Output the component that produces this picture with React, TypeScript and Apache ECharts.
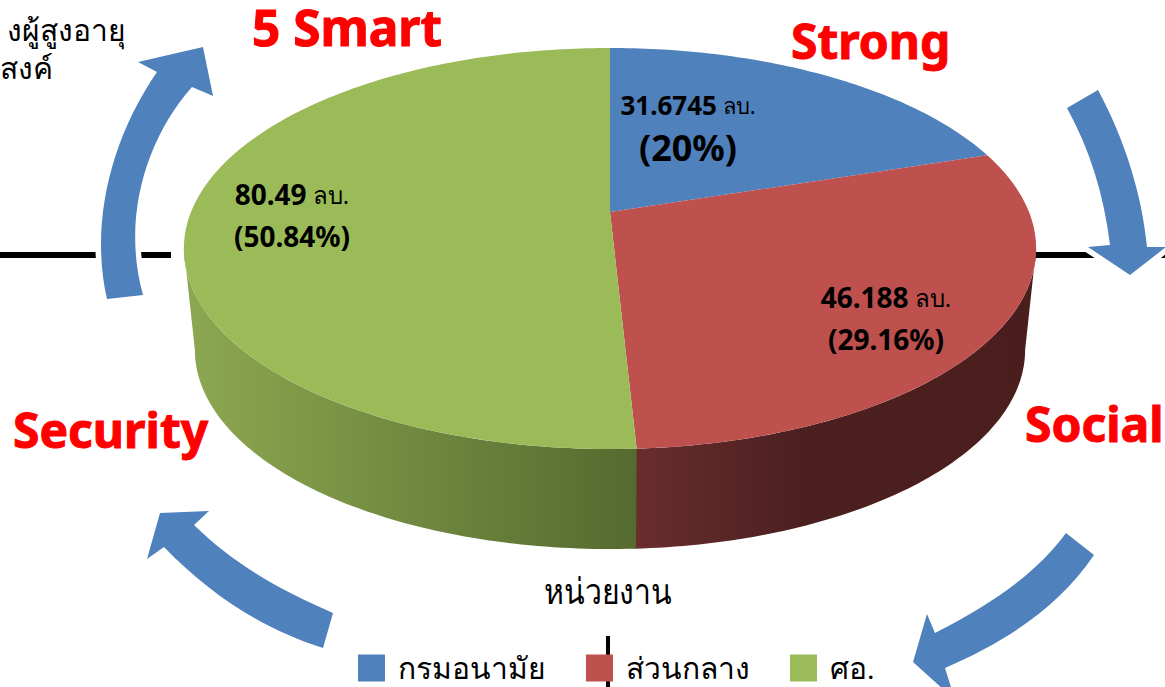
import React, { useEffect, useRef } from "react";
import * as echarts from "echarts";

const departments = ["กรมอนามัย", "ส่วนกลาง", "ศอ."];
const budgets = [31.6745, 46.188, 80.49];
const amountLabels = ["31.6745", "46.188", "80.49"];
const percentLabels = ["(20%)", "(29.16%)", "(50.84%)"];
const unitLabel = "ลบ.";
const sliceColors = ["#4F81BD", "#BE504D", "#9BBB59"];
const labelAnchors = [[688, 126], [886, 318], [292, 215]];
const amountSizes = [26, 28, 28];
const percentSizes = [36, 28, 28];
const sloganTexts = ["5 Smart", "Strong", "Security", "Social"];
const sloganAnchors = [[252, 27], [791, 40], [13, 429], [1025, 423]];
const sloganSizes = [49.5, 48, 48, 48];

const ARROWS: Record<string, string> = {
  arrowUp:
    "M107 299 C90 225 110 140 157 72 L138 62 L203 47 L213 96 L192 87 C145 140 122 220 143 295 Z",
  arrowRight:
    "M1098 90 C1125 140 1142 195 1147 247 L1166 247 L1130 275 L1088 247 L1110 245 C1104 195 1090 150 1067 108 Z",
  arrowDown:
    "M1094 555 C1060 605 1010 640 945 668 L955 700 L913 662 L927 614 L935 633 C990 605 1035 575 1066 533 Z",
  arrowLeft:
    "M333 613 C280 590 235 565 194 525 L209 511 L160 513 L147 559 L164 547 C210 595 265 630 323 648 Z",
};
Object.entries(ARROWS).forEach(([name, d]) => {
  echarts.graphic.registerShape(name, echarts.graphic.extendPath(d, {}));
});

const total = budgets.reduce((a, b) => a + b, 0);
const starts = budgets.map((_, i) => budgets.slice(0, i).reduce((a, b) => a + b, 0) / total);

// Perspective projection of the pie disc
const K = 0.182;
const top3d = (theta: number): [number, number] => {
  const u = Math.sin(theta);
  const v = -Math.cos(theta);
  const w = 1 - K * v;
  return [610 + (419 * u) / w, 212 + (193.9 * v) / w];
};
const bottom3d = (theta: number): [number, number] => {
  const [x, y] = top3d(theta);
  return [610 + (x - 610) * (415 / 426), 350 + (y - 248.5) * (199 / 200.5)];
};
const WALL_FROM = Math.acos(-K);
const WALL_TO = 2 * Math.PI - WALL_FROM;

const wallFills = [
  null,
  [[0, "#6A2D2D"], [0.4, "#4D2020"], [1, "#4B1E1E"]],
  [[0, "#8DA851"], [1, "#556A2F"]],
];

const sample = (fn: (t: number) => [number, number], a: number, b: number) => {
  const n = Math.max(2, Math.ceil(Math.abs(b - a) * 60));
  const pts: [number, number][] = [];
  for (let i = 0; i <= n; i++) pts.push(fn(a + ((b - a) * i) / n));
  return pts;
};

const FONT = "'Noto Sans', sans-serif";

const makeRender = (index: number) => (_params: any, api: any) => {
  const share = api.value(0) / total;
  const a = starts[index] * 2 * Math.PI;
  const b = a + share * 2 * Math.PI;
  const children: any[] = [];
  const wa = Math.max(a, WALL_FROM);
  // the earlier wall runs slightly under the next one so no seam shows
  const wb = Math.min(b + 0.004, WALL_TO);
  if (wb > wa && wallFills[index]) {
    const topEdge = sample(top3d, wa, wb);
    const bottomEdge = sample(bottom3d, wb, wa);
    children.push({
      type: "polygon",
      shape: { points: [...topEdge, ...bottomEdge] },
      style: {
        fill: new echarts.graphic.LinearGradient(
          0, 0, 1, 0,
          (wallFills[index] as any[]).map(([offset, color]) => ({ offset, color }))
        ),
      },
    });
  }
  children.push({
    type: "polygon",
    shape: { points: [[610, 212], ...sample(top3d, a, b)] },
    style: { fill: sliceColors[index] },
  });
  children.push({
    type: "text",
    z2: 10,
    style: {
      x: labelAnchors[index][0],
      y: labelAnchors[index][1],
      align: "center",
      verticalAlign: "middle",
      text: `{a|${amountLabels[index]}}{u| ${unitLabel}}\n{p|${percentLabels[index]}}`,
      rich: {
        a: { fontSize: amountSizes[index], fontWeight: "bold", fontFamily: FONT, fill: "#000", lineHeight: 42 },
        u: { fontSize: index === 0 ? 22 : 24, fontFamily: FONT, fill: "#000", lineHeight: 42 },
        p: { fontSize: percentSizes[index], fontWeight: "bold", fontFamily: FONT, fill: "#000", lineHeight: 42 },
      },
    },
  });
  return { type: "group", children };
};

export default function App() {
  const ref = useRef<HTMLDivElement>(null);
  useEffect(() => {
    const chart = echarts.init(ref.current!, undefined, { renderer: "svg" });
    const arrowEls: any[] = [];
    Object.keys(ARROWS).forEach((name) => {
      arrowEls.push({ type: name, x: 0, y: 0, z: 1, silent: true, style: { fill: "#fff", stroke: "#fff", lineWidth: 11 } });
    });
    Object.keys(ARROWS).forEach((name) => {
      arrowEls.push({ type: name, x: 0, y: 0, z: 1, silent: true, style: { fill: "#4F81BD" } });
    });
    chart.setOption({
      animation: false,
      backgroundColor: "#fff",
      legend: {
        left: 353,
        top: 648,
        itemWidth: 27,
        itemHeight: 27,
        itemGap: 40,
        icon: "rect",
        selectedMode: false,
        data: departments,
        textStyle: { fontSize: 30, color: "#000", fontFamily: "'Liberation Serif', serif", padding: [0, 0, 0, 8] },
      },
      graphic: [
        { type: "line", z: 0, silent: true, shape: { x1: 0, y1: 255, x2: 171, y2: 255 }, style: { stroke: "#000", lineWidth: 6 } },
        { type: "line", z: 0, silent: true, shape: { x1: 1030, y1: 255, x2: 1165, y2: 255 }, style: { stroke: "#000", lineWidth: 6 } },
        { type: "line", z: 0, silent: true, shape: { x1: 608, y1: 636, x2: 608, y2: 687 }, style: { stroke: "#000", lineWidth: 4 } },
        ...arrowEls,
        ...sloganTexts.map((text, i) => ({
          type: "text",
          z: 3,
          x: sloganAnchors[i][0],
          y: sloganAnchors[i][1],
          silent: true,
          style: {
            text,
            fill: "#FF0000",
            stroke: "#FF0000",
            lineWidth: 1,
            font: `bold ${sloganSizes[i]}px ${FONT}`,
            verticalAlign: "middle",
          },
        })),
        {
          type: "text", z: 3, x: 126, y: 29, silent: true,
          style: { text: "งผู้สูงอายุ", align: "right", verticalAlign: "middle", fill: "#000", font: `30px ${FONT}` },
        },
        {
          type: "text", z: 3, x: 53, y: 67, silent: true,
          style: { text: "สงค์", align: "right", verticalAlign: "middle", fill: "#000", font: `30px ${FONT}` },
        },
        {
          type: "text", z: 3, x: 608, y: 592, silent: true, scaleX: 0.84,
          style: { text: "หน่วยงาน", align: "center", verticalAlign: "middle", fill: "#000", font: "36px 'Liberation Serif', serif" },
        },
      ],
      series: departments.map((name, i) => ({
        type: "custom",
        name,
        coordinateSystem: "none",
        silent: true,
        itemStyle: { color: sliceColors[i] },
        data: [budgets[i]],
        renderItem: makeRender(i),
      })),
    });
    return () => chart.dispose();
  }, []);
  return <div ref={ref} style={{ position: "fixed", left: 0, top: 0, width: 1165, height: 687 }} />;
}
